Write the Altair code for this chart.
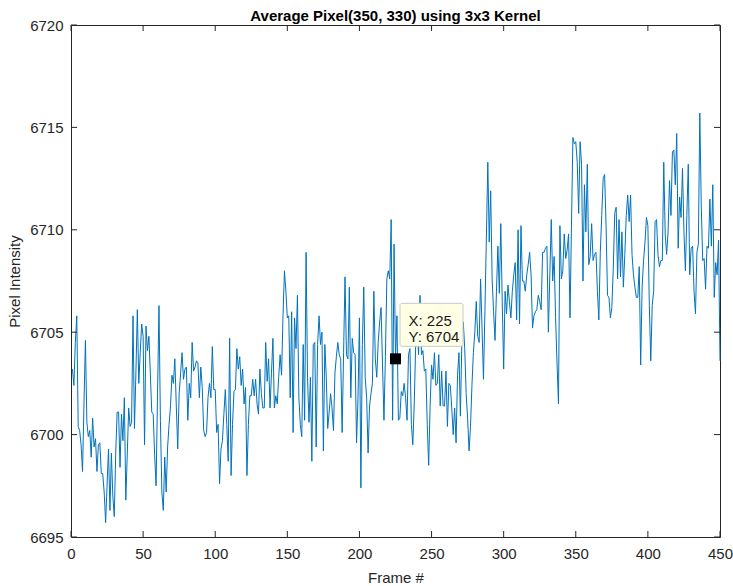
import altair as alt
import pandas as pd

# ---- series values (frames 1..450) ----
seg_001_050 = [
    6703.2, 6702.4, 6704.5, 6705.8, 6700.4, 6700.2, 6699.5, 6698.2, 6701.5, 6704.6,
    6700.6, 6699.9, 6700.2, 6698.9, 6700.8, 6699.4, 6699.8, 6698.2, 6699.5, 6699.6,
    6698.1, 6698.1, 6697.2, 6695.7, 6697.5, 6699.3, 6696.3, 6699.1, 6697.0, 6696.0,
    6699.1, 6701.1, 6701.1, 6698.4, 6701.0, 6699.7, 6701.8, 6696.8, 6699.0, 6701.3,
    6700.4, 6700.6, 6705.8, 6700.3, 6703.0, 6706.1, 6702.5, 6704.0, 6705.4, 6704.8,
]
seg_051_100 = [
    6699.5, 6705.3, 6704.1, 6704.8, 6703.0, 6701.1, 6701.0, 6699.0, 6697.5, 6702.0,
    6706.3, 6700.7, 6697.2, 6696.3, 6698.9, 6697.2, 6699.4, 6700.5, 6701.4, 6702.9,
    6702.5, 6703.7, 6701.4, 6699.3, 6702.0, 6703.0, 6704.0, 6702.7, 6703.2, 6703.3,
    6700.7, 6702.5, 6701.8, 6704.5, 6703.1, 6703.3, 6703.6, 6703.5, 6701.8, 6703.3,
    6702.3, 6700.2, 6699.9, 6700.1, 6701.8, 6702.5, 6701.8, 6704.3, 6702.2, 6702.2,
]
seg_101_150 = [
    6700.1, 6700.5, 6697.6, 6699.3, 6699.7, 6701.0, 6702.2, 6700.5, 6698.7, 6704.7,
    6698.0, 6700.5, 6702.1, 6702.2, 6704.2, 6703.2, 6703.8, 6702.4, 6703.2, 6701.5,
    6702.3, 6698.0, 6700.5, 6701.9, 6701.9, 6702.7, 6701.9, 6702.7, 6701.5, 6701.0,
    6703.2, 6702.0, 6701.3, 6701.3, 6704.5, 6702.6, 6703.7, 6701.3, 6703.0, 6704.7,
    6701.3, 6701.9, 6701.5, 6702.8, 6703.9, 6702.9, 6705.8, 6708.0, 6707.0, 6705.7,
]
seg_151_200 = [
    6705.8, 6701.8, 6706.0, 6700.1, 6705.7, 6704.2, 6706.8, 6701.8, 6700.5, 6699.9,
    6704.4, 6700.7, 6708.9, 6702.8, 6700.6, 6702.8, 6698.7, 6704.4, 6704.5, 6699.4,
    6704.4, 6705.8, 6704.4, 6705.0, 6699.2, 6704.4, 6702.8, 6700.3, 6701.1, 6702.0,
    6701.3, 6700.2, 6703.0, 6703.8, 6704.5, 6703.9, 6703.7, 6700.1, 6704.0, 6707.7,
    6703.9, 6703.7, 6707.2, 6701.8, 6704.7, 6704.0, 6703.9, 6699.6, 6701.8, 6705.7,
]
seg_201_250 = [
    6697.4, 6704.4, 6707.2, 6702.8, 6701.8, 6699.1, 6701.4, 6702.0, 6702.5, 6707.0,
    6703.7, 6702.8, 6704.5, 6705.5, 6706.2, 6703.4, 6700.7, 6703.8, 6707.6, 6708.0,
    6707.6, 6710.5, 6700.7, 6709.3, 6703.7, 6705.8, 6700.7, 6700.8, 6702.1, 6701.9,
    6702.5, 6701.8, 6700.7, 6703.9, 6704.2, 6700.5, 6699.5, 6701.5, 6704.4, 6705.5,
    6703.9, 6706.8, 6703.9, 6704.1, 6703.1, 6703.2, 6700.5, 6698.5, 6701.4, 6703.4,
]
seg_251_300 = [
    6702.7, 6704.0, 6702.4, 6702.5, 6703.9, 6701.4, 6703.1, 6701.4, 6701.4, 6703.1,
    6700.4, 6702.5, 6702.4, 6701.3, 6700.0, 6701.3, 6699.6, 6702.9, 6704.0, 6700.9,
    6704.5, 6705.5, 6704.2, 6702.0, 6700.8, 6699.2, 6700.4, 6702.4, 6704.0, 6705.0,
    6706.5, 6704.8, 6704.5, 6707.6, 6705.2, 6702.7, 6706.0, 6709.6, 6713.3, 6709.4,
    6711.9, 6707.6, 6706.0, 6704.6, 6707.0, 6709.2, 6706.9, 6710.3, 6706.5, 6703.2,
]
seg_301_350 = [
    6707.0, 6705.9, 6707.3, 6706.5, 6705.7, 6707.0, 6707.8, 6708.4, 6705.6, 6710.0,
    6705.4, 6710.2, 6707.5, 6707.5, 6707.0, 6707.8, 6708.3, 6708.9, 6707.8, 6705.2,
    6705.8, 6706.0, 6706.1, 6706.8, 6706.5, 6706.1, 6708.9, 6708.9, 6709.1, 6709.2,
    6705.0, 6707.8, 6710.5, 6707.5, 6708.7, 6705.7, 6703.5, 6701.5, 6710.2, 6707.6,
    6708.0, 6709.8, 6708.6, 6709.0, 6709.8, 6705.7, 6710.1, 6714.5, 6714.2, 6714.3,
]
seg_351_400 = [
    6713.3, 6710.8, 6714.3, 6713.2, 6707.5, 6712.2, 6709.9, 6713.2, 6708.3, 6708.7,
    6710.3, 6708.5, 6708.8, 6708.9, 6707.0, 6705.6, 6708.9, 6710.7, 6712.5, 6712.7,
    6710.2, 6706.8, 6706.7, 6705.7, 6706.2, 6708.1, 6710.8, 6711.1, 6707.6, 6710.5,
    6707.7, 6709.9, 6707.2, 6708.8, 6710.7, 6711.7, 6710.4, 6711.7, 6708.8, 6707.8,
    6707.2, 6706.7, 6706.7, 6708.2, 6703.4, 6707.2, 6708.5, 6709.4, 6710.6, 6710.2,
]
seg_401_450 = [
    6706.3, 6703.6, 6706.3, 6707.0, 6710.4, 6710.5, 6708.8, 6708.2, 6708.5, 6708.5,
    6713.3, 6709.8, 6708.8, 6709.9, 6712.4, 6710.7, 6713.8, 6713.9, 6712.2, 6714.7,
    6709.1, 6711.6, 6710.6, 6713.0, 6709.9, 6708.0, 6710.7, 6713.2, 6707.8, 6709.1,
    6709.2, 6707.0, 6705.9, 6708.9, 6709.3, 6715.7, 6711.2, 6708.5, 6708.6, 6707.1,
    6709.2, 6709.1, 6711.5, 6709.2, 6712.2, 6706.7, 6708.4, 6707.8, 6709.5, 6703.6,
]

x_ticks = [0, 50, 100, 150, 200, 250, 300, 350, 400, 450]
y_ticks = [6695, 6700, 6705, 6710, 6715, 6720]
title_text = "Average Pixel(350, 330) using 3x3 Kernel"
x_title = "Frame #"
y_title = "Pixel Intensity"
tip_frame = 225

values = (seg_001_050 + seg_051_100 + seg_101_150 + seg_151_200 + seg_201_250
          + seg_251_300 + seg_301_350 + seg_351_400 + seg_401_450)
frames = list(range(1, len(values) + 1))
df = pd.DataFrame({"frame": frames, "value": values})

W, H = 649, 512
X_DOM = [x_ticks[0], x_ticks[-1]]
Y_DOM = [y_ticks[0], y_ticks[-1]]
xs = alt.Scale(domain=X_DOM, nice=False, zero=False)
ys = alt.Scale(domain=Y_DOM, nice=False, zero=False)

AX = "#262626"
FONT = "Liberation Sans"

x_axis = alt.Axis(values=x_ticks, ticks=False, domain=False, grid=False,
                  format="d", labelPadding=9, titlePadding=9, labelFlush=False,
                  labelFontSize=15, titleFontSize=15)
y_axis = alt.Axis(values=y_ticks, ticks=False, domain=False, grid=False,
                  format="d", labelPadding=8, titlePadding=7, labelFlush=False,
                  labelFontSize=15, titleFontSize=15)


def X(field):
    return alt.X(field, scale=xs, axis=x_axis, title=x_title)


def Y(field):
    return alt.Y(field, scale=ys, axis=y_axis, title=y_title)


line = alt.Chart(df).mark_line(color="#0072BD", strokeWidth=1).encode(
    x=X("frame:Q"), y=Y("value:Q"),
)

# inward box ticks (MATLAB style), tick length ~6 px converted to data units
tick_px = 6
xlen = tick_px * (X_DOM[1] - X_DOM[0]) / W
ylen = tick_px * (Y_DOM[1] - Y_DOM[0]) / H

xt = pd.DataFrame({
    "x": x_ticks + x_ticks,
    "y0": [Y_DOM[0]] * len(x_ticks) + [Y_DOM[1]] * len(x_ticks),
    "y1": [Y_DOM[0] + ylen] * len(x_ticks) + [Y_DOM[1] - ylen] * len(x_ticks),
})
yt = pd.DataFrame({
    "y": y_ticks + y_ticks,
    "x0": [X_DOM[0]] * len(y_ticks) + [X_DOM[1]] * len(y_ticks),
    "x1": [X_DOM[0] + xlen] * len(y_ticks) + [X_DOM[1] - xlen] * len(y_ticks),
})
xtick_layer = alt.Chart(xt).mark_rule(color=AX, strokeWidth=1).encode(
    x=X("x:Q"), y=Y("y0:Q"), y2="y1:Q",
)
ytick_layer = alt.Chart(yt).mark_rule(color=AX, strokeWidth=1).encode(
    y=Y("y:Q"), x=X("x0:Q"), x2="x1:Q",
)

# data tip
tip_value = values[tip_frame - 1]
tip_df = pd.DataFrame({
    "frame": [tip_frame],
    "value": [tip_value],
    "label": [f"X: {tip_frame}\nY: {round(tip_value)}"],
})
tip_marker = alt.Chart(tip_df).mark_square(size=121, color="black", opacity=1).encode(
    x=X("frame:Q"), y=Y("value:Q"),
)
tip_box = alt.Chart(tip_df).mark_rect(
    width=63, height=43, xOffset=36, yOffset=-34, fill="#FFFFE6",
    stroke="#C8C8C8", strokeWidth=1, cornerRadius=2,
).encode(
    x=X("frame:Q"), y=Y("value:Q"),
)
tip_text = alt.Chart(tip_df).mark_text(
    align="left", baseline="alphabetic", dx=13, dy=-33, lineBreak="\n",
    lineHeight=16, fontSize=15, font=FONT, color="#1A1A1A",
).encode(
    x=X("frame:Q"), y=Y("value:Q"), text="label:N",
)

chart = alt.layer(line, xtick_layer, ytick_layer, tip_marker, tip_box, tip_text).properties(
    width=W, height=H,
    title=alt.TitleParams(title_text, fontSize=15, fontWeight="bold", font=FONT,
                          color="#000000", anchor="middle", offset=-6),
    padding={"left": 71, "top": 25, "right": 13, "bottom": 49},
    autosize=alt.AutoSizeParams(type="none"),
    background="white",
).configure_axis(
    labelFont=FONT, titleFont=FONT, labelColor=AX, titleColor=AX,
    titleFontWeight="normal",
).configure_view(
    stroke=AX, strokeWidth=1,
)

chart.save("out.html", embed_options={"renderer": "svg", "actions": False})
